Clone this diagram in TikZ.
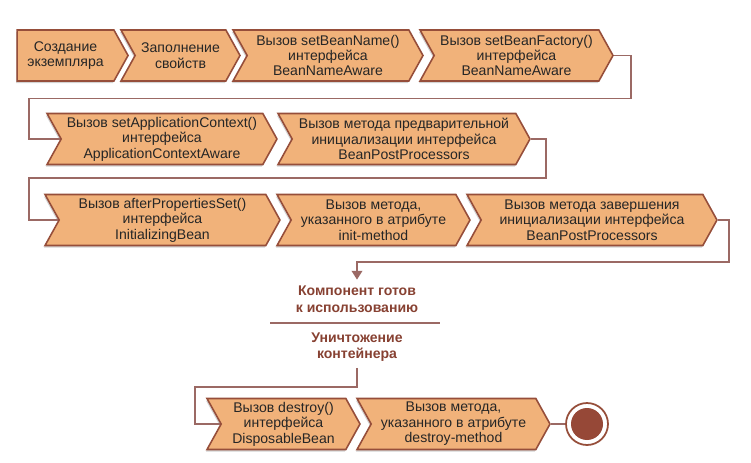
\documentclass[tikz,border=0pt]{standalone}
\usepackage{fontspec}
\setmainfont{Liberation Sans}
\usetikzlibrary{arrows.meta,shapes,positioning,shadows,calc}
\definecolor{boxfill}{RGB}{241,178,122}
\definecolor{boxline}{RGB}{150,78,58}
\definecolor{connline}{RGB}{155,105,100}
\definecolor{labeltext}{RGB}{135,65,50}
\definecolor{finfill}{RGB}{150,72,55}

\tikzset{
  stage/.style={signal, signal to=east, signal from=west, signal pointer angle=122,
    draw=boxline, line width=0.9pt, fill=boxfill, minimum height=1.02cm, inner sep=0pt,
    align=center, text=black!85, font=\fontsize{8}{8.8}\selectfont,
    drop shadow={shadow xshift=-0.6pt, shadow yshift=-1.2pt, opacity=0.35}},
  firststage/.style={stage, signal from=nowhere},
  conn/.style={draw=connline, line width=1pt},
  state/.style={text=labeltext, font=\bfseries\fontsize{8}{9.4}\selectfont, align=center}
}

\begin{document}
\begin{tikzpicture}[x=0.02cm, y=-0.02cm]
			\useasboundingbox (0,0) rectangle (751,463);
			
			% Row 1: creation
			\node[firststage, minimum width=2.22cm] (create) at (65.5,55.5) {Создание\\экземпляра};
			\node[stage, minimum width=2.38cm] (fill) at (180.5,55.5) {Заполнение\\свойств};
			\node[stage, minimum width=3.80cm] (setname) at (328,55.5) {Вызов setBeanName()\\интерфейса\\BeanNameAware};
			\node[stage, minimum width=3.86cm] (setfactory) at (516.5,55.5) {Вызов setBeanFactory()\\интерфейса\\BeanNameAware};
			
			% Row 2
			\node[stage, minimum width=4.60cm] (setcontext) at (162,139) {Вызов setApplicationContext()\\интерфейса\\ApplicationContextAware};
			\node[stage, minimum width=5.04cm] (preinit) at (404,139) {Вызов метода предварительной\\инициализации интерфейса\\BeanPostProcessors};
			
			% Row 3
			\node[stage, minimum width=4.70cm] (afterprops) at (162.5,220) {Вызов afterPropertiesSet()\\интерфейса\\InitializingBean};
			\node[stage, minimum width=3.86cm] (initmethod) at (373.5,220) {Вызов метода,\\указанного в атрибуте\\init-method};
			\node[stage, minimum width=5.00cm] (postinit) at (592,220) {Вызов метода завершения\\инициализации интерфейса\\BeanPostProcessors};
			
			% Ready / shutdown labels
			\node[state] (ready) at (357,299) {Компонент готов\\к использованию};
			\draw[conn] (270,323) -- (440,323);
			\node[state] (shutdown) at (357,347) {Уничтожение\\контейнера};
			
			% Row 4: destruction
			\node[stage, minimum width=3.06cm] (destroybean) at (283.5,424) {Вызов destroy()\\интерфейса\\DisposableBean};
			\node[stage, minimum width=3.86cm] (destroymethod) at (453.5,424) {Вызов метода,\\указанного в атрибуте\\destroy-method};
			\node[circle, draw=boxline, line width=1pt, fill=white, minimum size=0.84cm] (fin) at (587,424) {};
			\node[circle, fill=finfill, minimum size=0.64cm, inner sep=0pt] (fincore) at (fin.center) {};
			
			% Connectors
			\draw[conn] (setfactory.east) -- ++(17,0) -- ++(0,43) -- ++(-602,0) |- (setcontext.west);
			\draw[conn] (preinit.east) -- ++(15,0) -- ++(0,39) -- ++(-517,0) |- (afterprops.west);
			\draw[conn, -{Triangle[length=5pt, width=6pt]}] (postinit.east) -- ++(11,0) -- ++(0,42) -| (ready.north);
			\coordinate (turn) at (195,387);
			\draw[conn] (shutdown.south) |- (turn) |- (destroybean.west);
			\draw[conn] (destroymethod.east) -- (fin.west);
		\end{tikzpicture}
\end{document}
